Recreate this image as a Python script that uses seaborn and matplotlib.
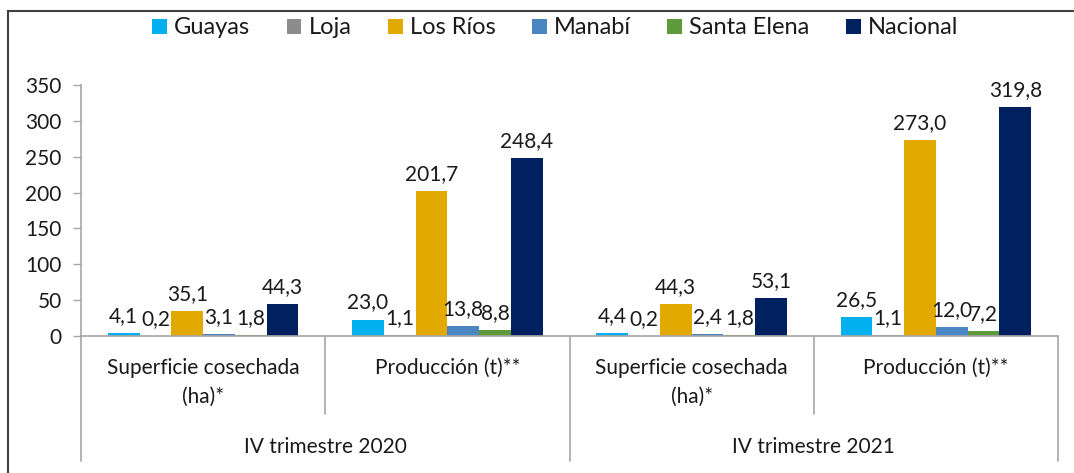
import numpy as np
import pandas as pd
import matplotlib
matplotlib.use('Agg')
import matplotlib.pyplot as plt
import matplotlib.patches as mpatches
import seaborn as sns

# data
categorias = ['Superficie cosechada\n(ha)*', 'Producción (t)**',
              'Superficie cosechada\n(ha)*', 'Producción (t)**']
periodos = ['IV trimestre 2020', 'IV trimestre 2021']
series = ['Guayas', 'Loja', 'Los Ríos', 'Manabí', 'Santa Elena', 'Nacional']
guayas = [4.1, 23.0, 4.4, 26.5]
loja = [0.2, 1.1, 0.2, 1.1]
los_rios = [35.1, 201.7, 44.3, 273.0]
manabi = [3.1, 13.8, 2.4, 12.0]
santa_elena = [1.8, 8.8, 1.8, 7.2]
nacional = [44.3, 248.4, 53.1, 319.8]
colores = ['#00B0F0', '#8C8C8C', '#E2AA00', '#4A86C2', '#5F9A3A', '#002060']

valores = [guayas, loja, los_rios, manabi, santa_elena, nacional]
claves = [f'c{i}' for i in range(len(categorias))]
rows = []
for s, vals in zip(series, valores):
    for k, v in zip(claves, vals):
        rows.append({'cat': k, 'serie': s, 'valor': v})
df = pd.DataFrame(rows)

sns.set_style('white')
plt.rcParams['font.family'] = ['Lato', 'DejaVu Sans']
txt_color = '#1a1a1a'
axis_color = '#a6a6a6'
fs = 15

fig = plt.figure(figsize=(10.74, 4.73), dpi=100)
ax = fig.add_axes([81/1074, 1 - 336/473, (1058 - 81)/1074, (336 - 85)/473])

sns.barplot(data=df, x='cat', y='valor', hue='serie', order=claves,
            hue_order=series, palette=colores, width=0.78, saturation=1,
            linewidth=0, ax=ax)

for cont, vals in zip(ax.containers, valores):
    ax.bar_label(cont, labels=[f'{v:.1f}'.replace('.', ',') for v in vals],
                 padding=5, fontsize=fs, color=txt_color)

handles, labels = ax.get_legend_handles_labels()
ax.get_legend().remove()
fig.legend(handles, labels, loc='center', bbox_to_anchor=(0.517, 1 - 28/473),
           ncol=6, frameon=False, fontsize=17, handlelength=0.62,
           handleheight=0.62, handletextpad=0.3, columnspacing=1.55,
           labelcolor=txt_color)

ax.set_ylim(0, 350)
ax.set_xlim(-0.5, len(claves) - 0.5)
ax.set_yticks(range(0, 351, 50))
ax.tick_params(axis='y', labelsize=fs, labelcolor=txt_color, length=6,
               color=axis_color, width=1, left=True, pad=8)
ax.set_xticks([])
ax.set_xlabel('')
ax.set_ylabel('')
for side in ['top', 'right']:
    ax.spines[side].set_visible(False)
for side in ['left', 'bottom']:
    ax.spines[side].set_color(axis_color)
    ax.spines[side].set_linewidth(1.2)

# two-level category axis
trans = ax.get_xaxis_transform()
px = 1 / 251  # axes fraction per pixel
for i, c in enumerate(categorias):
    for k, line in enumerate(c.split('\n')):
        ax.text(i, -(368 + 29 * k - 336) * px, line, transform=trans,
                ha='center', va='center', fontsize=fs, color=txt_color)
for j, p in enumerate(periodos):
    ax.text(2 * j + 0.5, -(447 - 336) * px, p, transform=trans, ha='center',
            va='center', fontsize=fs, color=txt_color)
for xb in np.arange(-0.5, len(claves), 1.0):
    bottom = 461 if (xb + 0.5) % 2 == 0 else 414
    ax.plot([xb, xb], [0, -(bottom - 336) * px], transform=trans,
            color=axis_color, lw=1.2, clip_on=False)

# chart frame
fig.patches.append(mpatches.Rectangle((8/1074, -0.2), 1.2, 1.2 - 11/473,
                                      transform=fig.transFigure,
                                      fill=False, edgecolor='#404040', lw=1.5))

plt.savefig('out.png', dpi=100)
